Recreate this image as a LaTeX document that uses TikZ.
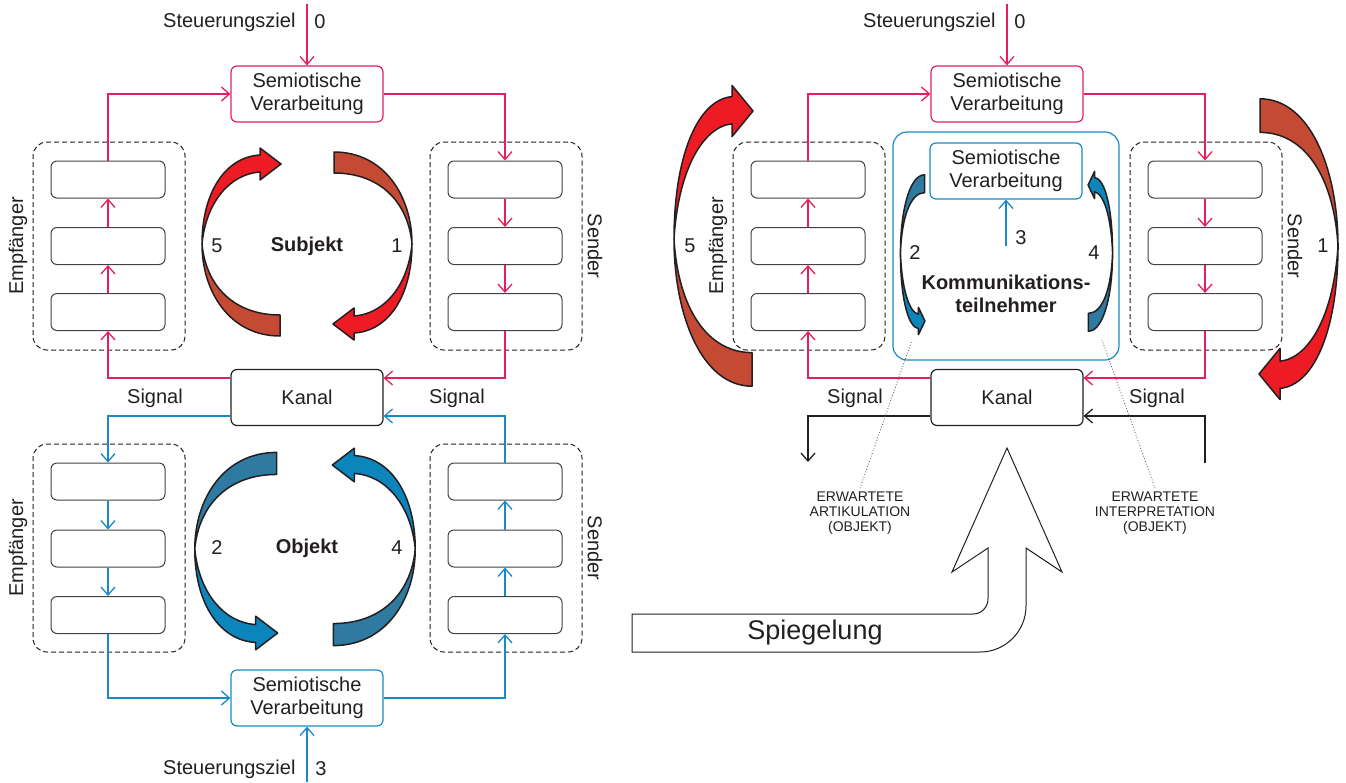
\documentclass[tikz,border=0pt]{standalone}
\usepackage{fontspec}
\setmainfont{Liberation Sans}
\usetikzlibrary{arrows.meta}
\definecolor{ink}{RGB}{35,31,32}
\definecolor{pk}{RGB}{231,30,92}
\definecolor{bl}{RGB}{24,138,200}
\definecolor{redA}{RGB}{237,28,36}
\definecolor{redB}{RGB}{196,74,52}
\definecolor{bluA}{RGB}{12,132,188}
\definecolor{bluB}{RGB}{46,122,160}
\newcommand{\ribbon}[2]{%
 \filldraw[rib,fill=#1] (-27,92) .. controls (-77,92) and (-105,48) .. (-105,0)
  .. controls (-101,43) and (-72,71) .. (-27,71) -- cycle;
 \filldraw[rib,fill=#2] (-105,0) .. controls (-105,-51) and (-82,-87) .. (-47,-89)
  -- (-47,-96) -- (-26,-80) -- (-47,-64) -- (-47,-72)
  .. controls (-77,-70) and (-101,-42) .. (-105,0) -- cycle;}
\begin{document}
\begin{tikzpicture}[x=1pt,y=-1pt,>={Straight Barb[length=8pt,width=14pt]},
 font=\fontsize{20}{23}\selectfont,every node/.style={text=ink},
 semi/.style={draw=#1,line width=1.2pt,rounded corners=6pt,minimum width=152pt,minimum height=56pt,align=center},
 cellbox/.style={draw=ink!85,line width=1pt,rounded corners=6pt,minimum width=114pt,minimum height=37pt},
 grp/.style={draw=ink,dash pattern=on 5pt off 3pt,line width=1pt,rounded corners=14pt,minimum width=152pt,minimum height=208pt},
 ln/.style={draw=#1,line width=1.3pt},
 rib/.style={draw=ink,line width=1.5pt,line join=round},
 bold/.style={font=\fontsize{20}{23}\selectfont\bfseries,align=center},
 small/.style={font=\fontsize{14}{15}\selectfont,align=center}]
\useasboundingbox (0,0) rectangle (1346,782);

\node[semi=pk] (semT) at (307,94) {Semiotische\\Verarbeitung};
\node[semi=bl] (semB) at (307,698) {Semiotische\\Verarbeitung};
\node[semi=ink] (kanL) at (307,397.5) {Kanal};
\node[anchor=east] (stT) at (299,22) {Steuerungsziel};
\node (zT) at (320,22) {0};
\node[anchor=east] (stB) at (299,769) {Steuerungsziel};
\node (zB) at (321,769) {3};
\coordinate (cT) at (307,4);
\coordinate (cB) at (307,782);
\node[grp] (gEA) at (109,246) {};
\node[grp] (gSA) at (506,246) {};
\node[grp] (gEB) at (109,548) {};
\node[grp] (gSB) at (506,548) {};
\node[cellbox] (eA1) at (108,179.5) {};
\node[cellbox] (eA2) at (108,246) {};
\node[cellbox] (eA3) at (108,312) {};
\node[cellbox] (sA1) at (505,179.5) {};
\node[cellbox] (sA2) at (505,246) {};
\node[cellbox] (sA3) at (505,312) {};
\node[cellbox] (eB1) at (108,481.5) {};
\node[cellbox] (eB2) at (108,548.5) {};
\node[cellbox] (eB3) at (108,615) {};
\node[cellbox] (sB1) at (505,481.5) {};
\node[cellbox] (sB2) at (505,548.5) {};
\node[cellbox] (sB3) at (505,615) {};
\node[rotate=90] (emA) at (18,246) {Empfänger};
\node[rotate=-90] (seA) at (595,246) {Sender};
\node[rotate=90] (emB) at (18,548) {Empfänger};
\node[rotate=-90] (seB) at (595,548) {Sender};
\node (sgA) at (155,398) {Signal};
\node (sgB) at (457,398) {Signal};

\draw[ln=pk,->] (cT) -- (semT);
\draw[ln=pk,->] (eA1.north) |- (semT.west);
\draw[ln=pk,->] (eA3) -- (eA2);
\draw[ln=pk,->] (eA2) -- (eA1);
\draw[ln=pk,->] ([yshift=19.5pt]kanL.west) -| (eA3.south);
\draw[ln=pk,->] (semT.east) -| (sA1.north);
\draw[ln=pk,->] (sA1) -- (sA2);
\draw[ln=pk,->] (sA2) -- (sA3);
\draw[ln=pk,->] (sA3.south) |- ([yshift=19.5pt]kanL.east);
\draw[ln=bl,->] ([yshift=-18.5pt]kanL.west) -| (eB1.north);
\draw[ln=bl,->] (eB1) -- (eB2);
\draw[ln=bl,->] (eB2) -- (eB3);
\draw[ln=bl,->] (eB3.south) |- (semB.west);
\draw[ln=bl,->] (semB.east) -| (sB3.south);
\draw[ln=bl,->] (sB3) -- (sB2);
\draw[ln=bl,->] (sB2) -- (sB1);
\draw[ln=bl,->] (sB1.north) |- ([yshift=-18.5pt]kanL.east);
\draw[ln=bl,->] (cB) -- (semB);

\begin{scope}[shift={(307,244)}] \ribbon{redB}{redA} \end{scope}
\begin{scope}[shift={(307,244)},rotate=180] \ribbon{redB}{redA} \end{scope}
\begin{scope}[shift={(305,549)},xscale=1.05,yscale=-1.05] \ribbon{bluB}{bluA} \end{scope}
\begin{scope}[shift={(305,549)},xscale=-1.05,yscale=1.05] \ribbon{bluB}{bluA} \end{scope}
\node (n5) at (217,246) {5};
\node (n1) at (397,246) {1};
\node (n2) at (217,548) {2};
\node (n4) at (397,548) {4};
\node[bold] (subj) at (307,246) {Subjekt};
\node[bold] (obj) at (307,548) {Objekt};

\node[semi=pk] (semR) at (1007,94) {Semiotische\\Verarbeitung};
\node[anchor=east] (stR) at (999,22) {Steuerungsziel};
\node (zR) at (1020,22) {0};
\coordinate (cR) at (1007,4);
\node[draw=bl,line width=1.2pt,rounded corners=14pt,minimum width=226pt,minimum height=228pt] (komm) at (1006,246) {};
\node[semi=bl] (semK) at (1006,171) {Semiotische\\Verarbeitung};
\coordinate (k3) at (1006,246);
\node (n3) at (1021,238) {3};
\node[bold] (kt) at (1006,294) {Kommunikations-\\teilnehmer};
\node[semi=ink] (kanR) at (1007,397.5) {Kanal};
\node[grp] (gER) at (809,246) {};
\node[grp] (gSR) at (1206,246) {};
\node[cellbox] (eR1) at (808,179.5) {};
\node[cellbox] (eR2) at (808,246) {};
\node[cellbox] (eR3) at (808,312) {};
\node[cellbox] (sR1) at (1205,179.5) {};
\node[cellbox] (sR2) at (1205,246) {};
\node[cellbox] (sR3) at (1205,312) {};
\node[rotate=90] (emR) at (718,246) {Empfänger};
\node[rotate=-90] (seR) at (1295,246) {Sender};
\node (sgC) at (855,398) {Signal};
\node (sgD) at (1157,398) {Signal};
\coordinate (dL) at (808,462);
\coordinate (dR) at (1205,463);

\draw[ln=pk,->] (cR) -- (semR);
\draw[ln=pk,->] (eR1.north) |- (semR.west);
\draw[ln=pk,->] (eR3) -- (eR2);
\draw[ln=pk,->] (eR2) -- (eR1);
\draw[ln=pk,->] ([yshift=19.5pt]kanR.west) -| (eR3.south);
\draw[ln=pk,->] (semR.east) -| (sR1.north);
\draw[ln=pk,->] (sR1) -- (sR2);
\draw[ln=pk,->] (sR2) -- (sR3);
\draw[ln=pk,->] (sR3.south) |- ([yshift=19.5pt]kanR.east);
\draw[ln=ink,->] ([yshift=-18.5pt]kanR.west) -| (dL);
\draw[ln=ink,->] (dR) |- ([yshift=-18.5pt]kanR.east);
\draw[ln=bl,->] (k3) -- (semK);

\begin{scope}[shift={(779,239)},yscale=1.6] \ribbon{redB}{redA} \end{scope}
\begin{scope}[shift={(1233,246)},rotate=180,yscale=1.6] \ribbon{redB}{redA} \end{scope}
\begin{scope}[shift={(933,253)},xscale=0.31,yscale=-0.85] \ribbon{bluB}{bluA} \end{scope}
\begin{scope}[shift={(1080,253)},xscale=-0.31,yscale=0.85] \ribbon{bluB}{bluA} \end{scope}
\node (n5r) at (690,246) {5};
\node (n1r) at (1323,246) {1};
\node (n2r) at (915,253) {2};
\node (n4r) at (1094,253) {4};

\node[small] (art) at (860,513) {ERWARTETE\\ARTIKULATION\\(OBJEKT)};
\node[small] (intp) at (1155,513) {ERWARTETE\\INTERPRETATION\\(OBJEKT)};
\coordinate (pa) at (912,340);
\coordinate (pb) at (1102,340);
\draw[ink!80,dotted,line width=0.8pt] (art.north) -- (pa);
\draw[ink!80,dotted,line width=0.8pt] (intp.north) -- (pb);

\draw[ink,line width=1pt] (632,614) -- (973,614) arc[start angle=-90,end angle=0,radius=15pt]
 -- (988,548) -- (952,572) -- (1007,448) -- (1062,572) -- (1026,548) -- (1026,606)
 arc[start angle=0,end angle=-90,radius=46pt] -- (632,652) -- cycle;
\node[font=\fontsize{27}{30}\selectfont] (spg) at (815,633) {Spiegelung};
\end{tikzpicture}
\end{document}
